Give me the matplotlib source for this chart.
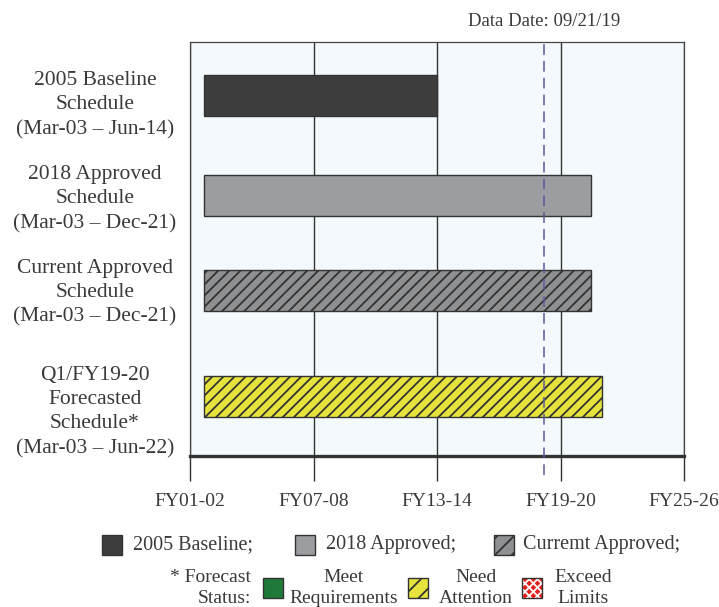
import matplotlib
matplotlib.use("Agg")
import matplotlib.pyplot as plt
from matplotlib.patches import Rectangle

plt.rcParams['font.family'] = ['Liberation Serif', 'DejaVu Serif']
plt.rcParams['hatch.linewidth'] = 1.3

# schedule data (decimal years)
labels = ["2005 Baseline\nSchedule\n(Mar-03 \u2013 Jun-14)",
          "2018 Approved\nSchedule\n(Mar-03 \u2013 Dec-21)",
          "Current Approved\nSchedule\n(Mar-03 \u2013 Dec-21)",
          "Q1/FY19-20\nForecasted\nSchedule*\n(Mar-03 \u2013 Jun-22)"]
starts = [2003.17, 2003.17, 2003.17, 2003.17]
ends = [2014.5, 2022.0, 2022.0, 2022.5]
data_date = 2019.72
tick_years = [2002.5, 2008.5, 2014.5, 2020.5, 2026.5]
tick_labels = ["FY01-02", "FY07-08", "FY13-14", "FY19-20", "FY25-26"]

colors = ["#3d3d3d", "#9c9da0", "#8f9092", "#e6e43c"]
hatches = [None, None, "///", "///"]
ypos = [3.60, 2.605, 1.66, 0.595]
label_y = [3.51, 2.57, 1.635, 0.44]

TXT = "#3a3a3a"
W, H = 719, 607
fig = plt.figure(figsize=(W / 100, H / 100), dpi=100)
ax = fig.add_axes([190 / W, 151 / H, 494 / W, 414 / H])
ax.set_facecolor("#f3f9fc")

ax.set_xlim(tick_years[0], tick_years[-1])
ax.set_ylim(0, 4.14)

ax.set_axisbelow(True)
ax.xaxis.grid(True, color="#333333", lw=1.0)

for s, e, y, c, h in zip(starts, ends, ypos, colors, hatches):
    ax.barh(y, e - s, left=s, height=0.41, color=c, edgecolor="#333333",
            lw=1.0, hatch=h)

for lab, y in zip(labels, label_y):
    ax.text(-95 / 494, y, lab, transform=ax.get_yaxis_transform(),
            ha="center", va="center", fontsize=15.5, color=TXT,
            linespacing=1.38)

ax.set_yticks([])
ax.set_xticks(tick_years)
ax.set_xticklabels(tick_labels, fontsize=14, color=TXT)
ax.tick_params(axis="x", length=18, width=1.0, color="#333333", pad=9)

for side in ["top", "left", "right"]:
    ax.spines[side].set_color("#444444")
    ax.spines[side].set_linewidth(0.9)
ax.spines["bottom"].set_color("#333333")
ax.spines["bottom"].set_linewidth(2.4)

# data date line
ax.vlines(data_date, -0.19, 4.14, colors="#5a5a9c", lw=1.1,
          linestyles=(0, (7, 4)), clip_on=False, zorder=3)
ax.annotate("Data Date: 09/21/19", xy=(data_date, 1.0),
            xycoords=("data", "axes fraction"), xytext=(0, 14.5),
            textcoords="offset points", ha="center", va="center",
            fontsize=13.5, color=TXT)


# legend built by hand (pixel positions from the top-left)
def fx(x):
    return x / W


def fy(y):
    return 1 - y / H


def square(x, y, face, hatch=None, edge="#333333"):
    fig.add_artist(Rectangle((fx(x), fy(y + 20)), 20 / W, 20 / H,
                             transform=fig.transFigure, facecolor=face,
                             edgecolor=edge, lw=1.0, hatch=hatch))


square(102, 535, colors[0])
fig.text(fx(133), fy(545), "2005 Baseline;", ha="left", va="center",
         fontsize=14.5, color=TXT)
square(295, 535, colors[1])
fig.text(fx(326), fy(545), "2018 Approved;", ha="left", va="center",
         fontsize=14.5, color=TXT)
square(494, 535, colors[2], hatch="//")
fig.text(fx(523), fy(545), "Curremt Approved;", ha="left", va="center",
         fontsize=14.5, color=TXT)

fig.text(fx(251), fy(588), "* Forecast\nStatus:", ha="right", va="center",
         fontsize=14, color=TXT, linespacing=1.3)
square(263, 578, "#1f7a3a")
fig.text(fx(344), fy(588), "Meet\nRequirements", ha="center", va="center",
         fontsize=14, color=TXT, linespacing=1.3)
square(408, 578, colors[3], hatch="//")
fig.text(fx(476), fy(588), "Need\nAttention", ha="center", va="center",
         fontsize=14, color=TXT, linespacing=1.3)
fig.add_artist(Rectangle((fx(522), fy(598)), 20 / W, 20 / H,
                         transform=fig.transFigure, facecolor="#e8201c",
                         edgecolor="white", lw=0, hatch="xxxx"))
fig.add_artist(Rectangle((fx(522), fy(598)), 20 / W, 20 / H,
                         transform=fig.transFigure, facecolor="none",
                         edgecolor="#333333", lw=1.0))
fig.text(fx(583), fy(588), "Exceed\nLimits", ha="center", va="center",
         fontsize=14, color=TXT, linespacing=1.3)

fig.savefig("out.png", dpi=100)
